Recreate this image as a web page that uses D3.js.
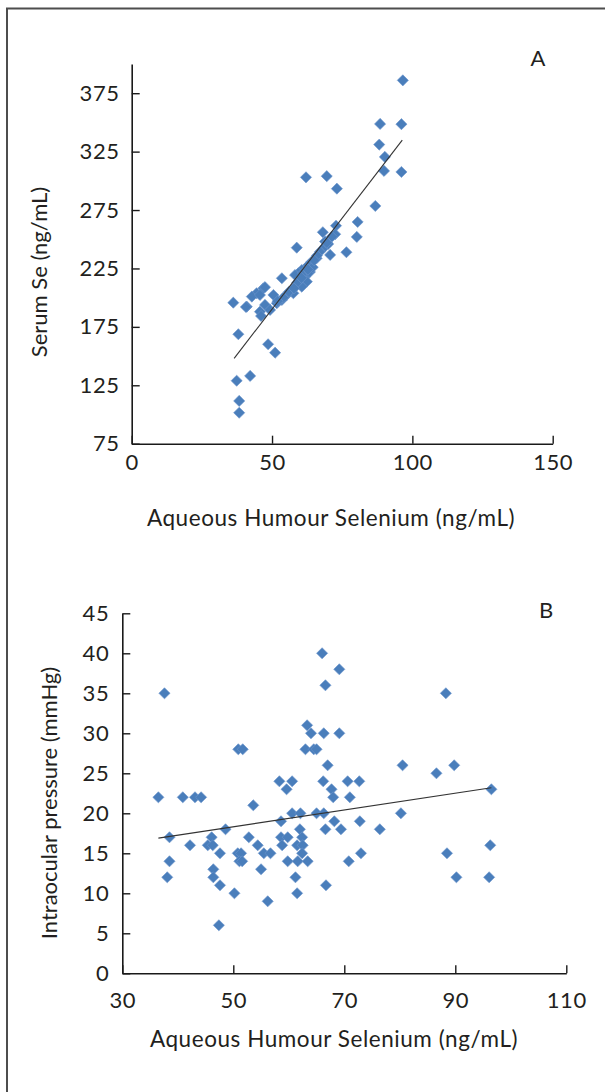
<!DOCTYPE html>
<html><head><meta charset="utf-8">
<script src="https://cdn.jsdelivr.net/npm/d3@7/dist/d3.min.js"></script>
<style>
html,body{margin:0;padding:0;background:#fff;}
svg{display:block;}
text{font-family:Lato,"Open Sans",sans-serif;fill:#231f20;}
</style></head>
<body>
<script>
// Panel A: Aqueous humour Se (x) vs serum Se (y)
const aqA = [96.6,88.5,96.1,88.2,90.2,89.9,96.1,62.1,69.5,73.1,86.8,80.5,80.2,76.5,70.7,72.8,68.1,72.5,71.3,68.9,58.8,67.1,65.9,64.1,62.4,60.6,59.4,58.2,61.8,60,62.4,58.8,60.6,57,57.6,55.2,53.5,51.7,50.5,53.5,46.9,44.5,42.8,45.7,47.5,41,47.5,49.3,45.7,46.1,36.2,40.7,38,48.6,51.1,37.4,42.2,38.3,38.3,63,61,63.5,59,56,54,52,66,69,70,64.5,65,69.5,60.5,62.8,57.8];
const serumA = [386,348.7,348.5,331,320.5,308.5,307.6,303,304,293.3,278.5,264.8,252,238.9,236.6,261.6,256,254.3,252.2,248,242.8,239.4,233.7,230.8,226.5,223.7,220.9,219.4,218,215.2,213.7,210.9,209.4,206.6,203.8,202.3,198,195.2,202.3,216.6,208,203.8,200.9,202.3,209,192.3,193.8,189.5,188,184.3,195.7,192,168.7,160.1,152.9,128.9,133,111.6,101.5,228,221,222,213,205,200,197,236,244,246,226,232,247,217,224,208];
const trendA = {x:[36.5,96.4], y:[148.1,334.8]};
const xTicksA = [0,50,100,150];
const yTicksA = [75,125,175,225,275,325,375];

// Panel B: Aqueous humour Se (x) vs intraocular pressure (y)
const aqB = [66,69.1,66.6,37.6,88.3,63.3,64,66.3,69.1,50.9,51.7,63,64.5,65,67,80.5,89.8,86.6,58.3,60.6,66.2,70.6,72.7,59.6,67.7,96.5,36.5,40.9,43.1,44.2,68,71,53.6,60.6,62.1,65,66.3,80.2,58.6,68.2,72.8,48.6,62,66.6,69.4,76.4,38.5,46.1,52.8,58.6,59.8,62.4,42.2,45.4,46.3,54.4,58.8,61.5,62.5,96.3,47.6,50.8,51.4,55.5,56.7,62.4,73,88.5,38.5,51.1,51.6,59.8,61.6,63.4,70.8,46.4,55,38.1,46.4,61.2,90.2,96.1,47.6,66.7,50.2,61.5,56.2,47.4];
const iopB = [40,38,36,35,35,31,30,30,30,28,28,28,28,28,26,26,26,25,24,24,24,24,24,23,23,23,22,22,22,22,22,22,21,20,20,20,20,20,19,19,19,18,18,18,18,18,17,17,17,17,17,17,16,16,16,16,16,16,16,16,15,15,15,15,15,15,15,15,14,14,14,14,14,14,14,13,13,12,12,12,12,12,11,11,10,10,9,6];
const trendB = {x:[36.5,96.5], y:[16.9,23.2]};
const xTicksB = [30,50,70,90,110];
const yTicksB = [0,5,10,15,20,25,30,35,40,45];

const W = 605, H = 1092;
const svg = d3.select("body").append("svg").attr("width", W).attr("height", H);

// outer frame (cropped at right and bottom)
svg.append("rect").attr("x",7).attr("y",8.5).attr("width",W+20).attr("height",H+20)
  .attr("fill","none").attr("stroke","#4d4d4d").attr("stroke-width",2);

const mColor = "#4a7ebb";

function panel(cfg){
  const g = svg.append("g");
  const x = d3.scaleLinear().domain(cfg.xDom).range(cfg.xRange);
  const y = d3.scaleLinear().domain(cfg.yDom).range(cfg.yRange);
  const yAxis = d3.axisLeft(y).tickValues(cfg.yTicks).tickSizeInner(-8).tickSizeOuter(0).tickPadding(cfg.yPad).tickFormat(d3.format("d"));
  const xAxis = d3.axisBottom(x).tickValues(cfg.xTicks).tickSizeInner(-8).tickSizeOuter(0).tickPadding(cfg.xPad).tickFormat(d3.format("d"));
  const ya = g.append("g").attr("transform",`translate(${cfg.xRange[0]},0)`).call(yAxis);
  const xa = g.append("g").attr("transform",`translate(0,${cfg.yRange[0]})`).call(xAxis);
  [ya,xa].forEach(a=>{
    a.select(".domain").attr("stroke","#1a1a1a").attr("stroke-width",1.6);
    a.selectAll(".tick line").attr("stroke","#1a1a1a").attr("stroke-width",1.4);
    a.selectAll("text").attr("font-size",22).attr("font-family","Lato").attr("fill","#231f20")
      .attr("letter-spacing","0.6px");
  });
  // points
  g.append("g").selectAll("path").data(cfg.xs.map((v,i)=>[v,cfg.ys[i]])).join("path")
    .attr("d", d3.symbol().type(d3.symbolSquare).size(62)())
    .attr("transform", d=>`translate(${x(d[0])},${y(d[1])}) rotate(45)`)
    .attr("fill", mColor).attr("stroke","#6b95cc").attr("stroke-width",0.6);
  // trend line
  g.append("line").attr("x1",x(cfg.trend.x[0])).attr("y1",y(cfg.trend.y[0]))
    .attr("x2",x(cfg.trend.x[1])).attr("y2",y(cfg.trend.y[1]))
    .attr("stroke","#333").attr("stroke-width",1.1);
  // titles
  g.append("text").attr("x",cfg.xTitlePos[0]).attr("y",cfg.xTitlePos[1]).attr("text-anchor","middle")
    .attr("font-size",22.5).attr("letter-spacing","0.55px").text(cfg.xTitle);
  g.append("text").attr("transform",`translate(${cfg.yTitlePos[0]},${cfg.yTitlePos[1]}) rotate(-90)`)
    .attr("text-anchor","middle").attr("font-size",22).text(cfg.yTitle);
  g.append("text").attr("x",cfg.labelPos[0]).attr("y",cfg.labelPos[1]).attr("text-anchor","middle")
    .attr("font-size",22).text(cfg.label);
}

panel({
  xs: aqA, ys: serumA, trend: trendA,
  xDom:[0,150], xRange:[131.7,552.7], yDom:[75,400], yRange:[443.7,64],
  xTicks:xTicksA, yTicks:yTicksA, xPad:11, yPad:12,
  xTitle:"Aqueous Humour Selenium (ng/mL)", xTitlePos:[331,526],
  yTitle:"Serum Se (ng/mL)", yTitlePos:[47,272],
  label:"A", labelPos:[538,66]
});

panel({
  xs: aqB, ys: iopB, trend: trendB,
  xDom:[30,110], xRange:[122.3,566.3], yDom:[0,45], yRange:[973.3,613.3],
  xTicks:xTicksB, yTicks:yTicksB, xPad:19, yPad:13,
  xTitle:"Aqueous Humour Selenium (ng/mL)", xTitlePos:[334,1047],
  yTitle:"Intraocular pressure (mmHg)", yTitlePos:[57,803],
  label:"B", labelPos:[546,618]
});
</script>
</body></html>
